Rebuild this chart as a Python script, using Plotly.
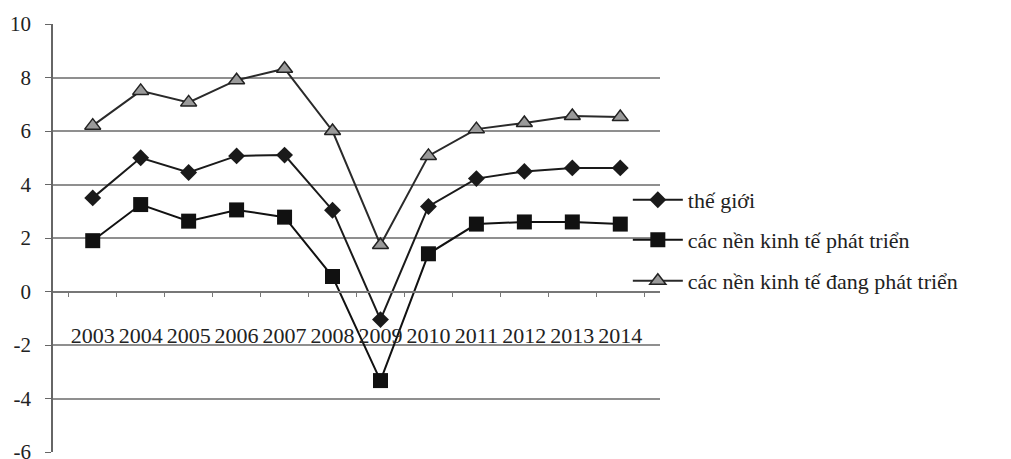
import plotly.graph_objects as go

years = ["2003", "2004", "2005", "2006", "2007", "2008", "2009", "2010", "2011", "2012", "2013", "2014"]
the_gioi = [3.5, 5.0, 4.45, 5.07, 5.1, 3.04, -1.05, 3.18, 4.22, 4.49, 4.62, 4.62]
phat_trien = [1.9, 3.25, 2.63, 3.05, 2.78, 0.56, -3.33, 1.41, 2.52, 2.6, 2.6, 2.52]
dang_phat_trien = [6.2, 7.5, 7.07, 7.9, 8.33, 6.0, 1.74, 5.07, 6.07, 6.3, 6.56, 6.52]
y_ticks = [-6, -4, -2, 0, 2, 4, 6, 8, 10]
y_tick_labels = ["-6", "-4", "-2", "0", "2", "4", "6", "8", "10"]

FONT = "Liberation Serif"

fig = go.Figure()
fig.add_trace(go.Scatter(
    x=years, y=the_gioi, name="thế giới", mode="lines+markers", legend="legend",
    line=dict(color="#1a1a1a", width=2),
    marker=dict(symbol="diamond", size=13, color="#1a1a1a"),
))
fig.add_trace(go.Scatter(
    x=years, y=phat_trien, name="các nền kinh tế phát triển", mode="lines+markers", legend="legend2",
    line=dict(color="#111111", width=2),
    marker=dict(symbol="square", size=15, color="#111111"),
))
fig.add_trace(go.Scatter(
    x=years, y=dang_phat_trien, name="các nền kinh tế đang phát triển", mode="lines+markers", legend="legend3",
    line=dict(color="#2a2a2a", width=2),
    marker=dict(symbol="triangle-up", size=14, color="#9a9a9a",
                line=dict(color="#222222", width=1.5)),
))

def leg(y):
    return dict(x=0.947, y=y, xanchor="left", yanchor="middle",
                font=dict(family=FONT, size=22, color="#222222"),
                bgcolor="rgba(0,0,0,0)", itemwidth=50)

fig.update_layout(
    width=1011, height=459,
    margin=dict(l=45, r=359, t=16, b=15),
    paper_bgcolor="white", plot_bgcolor="white",
    font=dict(family=FONT, color="#222222"),
    showlegend=True,
    legend=leg(1 - (200 - 24) / 428),
    legend2=leg(1 - (240 - 24) / 428),
    legend3=leg(1 - (281 - 24) / 428),
    xaxis=dict(
        type="category", anchor="free", position=0.375, automargin=False,
        showline=True, linecolor="#777777", linewidth=1.5,
        ticks="outside", tickson="boundaries", ticklen=5, tickcolor="#777777",
        tickangle=0,
        tickfont=dict(family=FONT, size=22, color="#222222"),
        ticklabelstandoff=24, showgrid=False, zeroline=False,
    ),
    yaxis=dict(
        range=[-6, 10], tickvals=y_ticks, ticktext=y_tick_labels, automargin=False,
        showline=True, linecolor="#666666", linewidth=1.5,
        ticks="outside", ticklen=6, tickcolor="#666666",
        tickfont=dict(family=FONT, size=21, color="#222222"),
        ticklabelstandoff=10,
        showgrid=True, gridcolor="#8f8f8f", gridwidth=1.5,
        zeroline=False,
    ),
)

fig.write_html("out.html")
